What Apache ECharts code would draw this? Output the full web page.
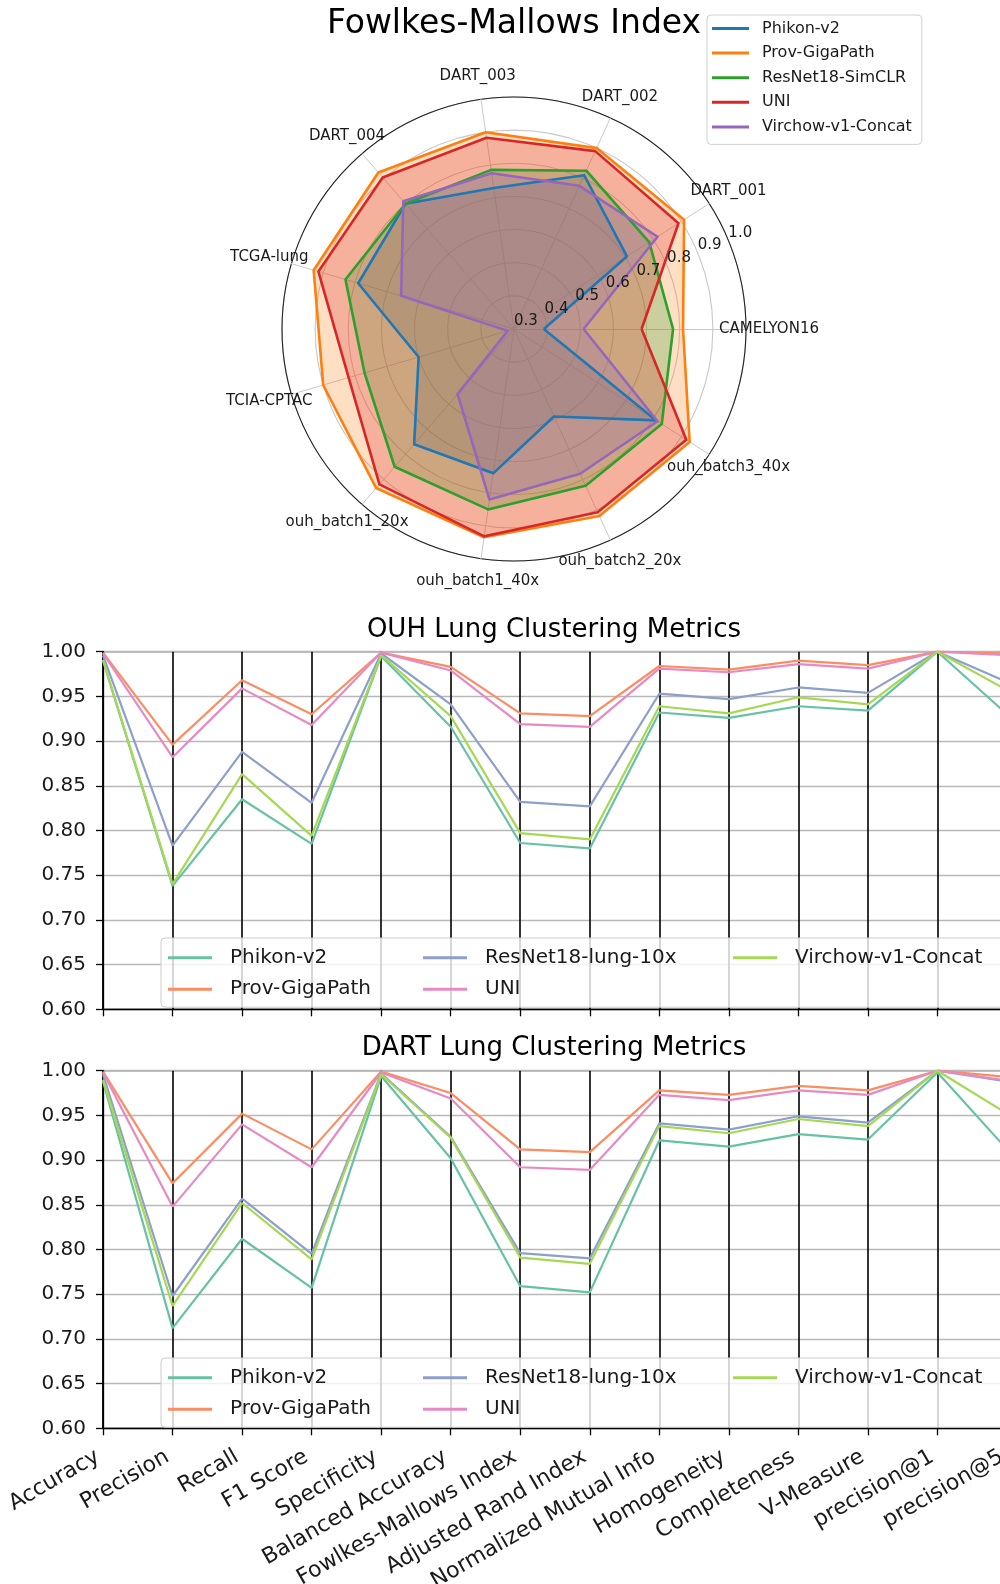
<!DOCTYPE html>
<html><head><meta charset="utf-8">
<script src="https://cdn.jsdelivr.net/npm/echarts@6/dist/echarts.min.js"></script>
<style>
html,body{margin:0;padding:0;overflow:hidden;background:#fff;width:1000px;height:1584px}
#radar{position:absolute;left:0;top:0;width:1028px;height:600px}
#par{position:absolute;left:0;top:600px;width:1108px;height:984px}
</style>
</head><body>
<div id="radar"></div><div id="par"></div>
<script>
// ---------- Radar data ----------
const radarCategories = ['CAMELYON16','DART_001','DART_002','DART_003','DART_004','TCGA-lung','TCIA-CPTAC','ouh_batch1_20x','ouh_batch1_40x','ouh_batch2_20x','ouh_batch3_40x'];
const radarModels = ['Phikon-v2','Prov-GigaPath','ResNet18-SimCLR','UNI','Virchow-v1-Concat'];
const radarPhikon  = [0.39, 0.705, 0.81, 0.73, 0.80, 0.79, 0.60, 0.76, 0.74, 0.59, 0.81];
const radarProv    = [0.81, 0.91, 0.90, 0.90, 0.925, 0.93, 0.90, 0.935, 0.935, 0.92, 0.93];
const radarResNet  = [0.78, 0.785, 0.825, 0.785, 0.80, 0.83, 0.77, 0.85, 0.85, 0.82, 0.83];
const radarUNI     = [0.685, 0.89, 0.89, 0.883, 0.905, 0.915, 0.82, 0.92, 0.932, 0.908, 0.918];
const radarVirchow = [0.51, 0.815, 0.775, 0.775, 0.81, 0.655, 0.32, 0.56, 0.82, 0.78, 0.815];
const radarTicks = [0.3, 0.4, 0.5, 0.6, 0.7, 0.8, 0.9, 1.0];

// ---------- Parallel data ----------
const metrics = ['Accuracy','Precision','Recall','F1 Score','Specificity','Balanced Accuracy','Fowlkes-Mallows Index','Adjusted Rand Index','Normalized Mutual Info','Homogeneity','Completeness','V-Measure','precision@1','precision@5'];
const parModels = ['Phikon-v2','Prov-GigaPath','ResNet18-lung-10x','UNI','Virchow-v1-Concat'];
const ouhPhikon  = [0.990,0.738,0.835,0.785,0.995,0.916,0.786,0.780,0.932,0.926,0.939,0.934,1.000,0.930];
const ouhProv    = [0.999,0.896,0.968,0.930,0.999,0.983,0.931,0.928,0.984,0.980,0.990,0.985,1.000,0.998];
const ouhResNet  = [0.996,0.783,0.888,0.831,0.998,0.941,0.832,0.827,0.953,0.947,0.960,0.954,1.000,0.966];
const ouhUNI     = [0.998,0.882,0.959,0.918,0.999,0.979,0.919,0.916,0.981,0.977,0.986,0.981,1.000,0.996];
const ouhVirchow = [0.991,0.740,0.863,0.794,0.996,0.928,0.797,0.790,0.939,0.931,0.949,0.941,1.000,0.957];
const dartPhikon  = [0.988,0.712,0.812,0.757,0.994,0.902,0.759,0.752,0.922,0.915,0.929,0.923,0.998,0.912];
const dartProv    = [0.999,0.874,0.952,0.912,0.999,0.975,0.912,0.909,0.978,0.973,0.983,0.978,1.000,0.993];
const dartResNet  = [0.996,0.748,0.857,0.795,0.997,0.926,0.796,0.790,0.941,0.934,0.949,0.942,1.000,0.988];
const dartUNI     = [0.998,0.848,0.940,0.892,0.998,0.969,0.892,0.889,0.973,0.967,0.978,0.973,1.000,0.989];
const dartVirchow = [0.990,0.737,0.852,0.789,0.996,0.925,0.791,0.784,0.938,0.930,0.946,0.938,1.000,0.952];
const yTicks = ['0.60','0.65','0.70','0.75','0.80','0.85','0.90','0.95','1.00'];

const FONT = 'DejaVu Sans';
const TXT = '#1a1a1a';

// ---------- Radar chart ----------
const radarColors = ['#1f77b4','#ff7f0e','#2ca02c','#d62728','#9467bd'];
const radarValues = [radarPhikon, radarProv, radarResNet, radarUNI, radarVirchow];
const rc = echarts.init(document.getElementById('radar'));
const ringColors = radarTicks.map((t,i)=> i === radarTicks.length-1 ? '#222' : '#c8c8c8');
rc.setOption({
  animation:false,
  textStyle:{fontFamily:FONT},
  title:{text:'Fowlkes-Mallows Index', left:'center', top:4, padding:0,
    textStyle:{fontFamily:FONT,fontSize:33,fontWeight:'normal',color:'#000',lineHeight:40}},
  legend:{orient:'vertical', left:707, top:15, padding:[4,10,8,5], itemWidth:37, itemHeight:3, icon:'rect',
    itemGap:5.6, data:radarModels, backgroundColor:'rgba(255,255,255,0.8)', borderColor:'#d0d0d0', borderWidth:1,
    borderRadius:4, z:10,
    textStyle:{fontFamily:FONT,fontSize:16,color:TXT,lineHeight:19,padding:[0,0,0,8]}},
  radar:{center:[514,329], radius:232, startAngle:0, shape:'circle', splitNumber:radarTicks.length-1,
    indicator: radarCategories.map(n=>({name:n, min:radarTicks[0], max:radarTicks[radarTicks.length-1]})),
    axisName:{color:TXT, fontFamily:FONT, fontSize:15, align:'center', verticalAlign:'middle'},
    nameGap:23,
    splitLine:{lineStyle:{color:ringColors, width:1.1}},
    splitArea:{show:false},
    axisLine:{lineStyle:{color:'#c8c8c8', width:1}},
    axisTick:{show:false}, axisLabel:{show:false}},
  polar:{center:[514,329], radius:232},
  angleAxis:{type:'value', startAngle:22.5, min:0, max:360, show:false},
  radiusAxis:{type:'value', min:0.3, max:1.0, interval:0.1, axisLine:{show:false}, axisTick:{show:false},
    splitLine:{show:false}, z:20,
    axisLabel:{show:true, margin:0, align:'left', verticalAlign:'bottom', fontFamily:FONT, fontSize:15, color:TXT,
      formatter:v=>v.toFixed(1)}},
  series:[
    {type:'radar', symbol:'none', z:2,
      data: radarModels.map((n,i)=>({name:n, value:radarValues[i], itemStyle:{color:radarColors[i]},
        lineStyle:{color:radarColors[i], width:0, opacity:0}, areaStyle:{color:radarColors[i], opacity:0.25}}))},
    {type:'radar', symbol:'none', z:3,
      data: radarModels.map((n,i)=>({name:n, value:radarValues[i], itemStyle:{color:radarColors[i]},
        lineStyle:{color:radarColors[i], width:2.6}}))}
  ]
});

// ---------- Parallel charts ----------
const setColors = ['#66c2a5','#fc8d62','#8da0cb','#e78ac3','#a6d854'];
const ouhValues = [ouhPhikon, ouhProv, ouhResNet, ouhUNI, ouhVirchow];
const dartValues = [dartPhikon, dartProv, dartResNet, dartUNI, dartVirchow];
const pc = echarts.init(document.getElementById('par'));
const gridTops = [51.7, 470.7];
const legendTops = [338, 758];
function xAx(i){
  return {gridIndex:i, type:'category', data:metrics, boundaryGap:false,
    axisLine:{show:true, lineStyle:{color:'#000', width:1.3}},
    axisTick:{show:true, interval:0, length:7, lineStyle:{color:'#000', width:1.3}},
    axisLabel:{show:i===1, interval:0, rotate:30, fontSize:22, margin:24, padding:[0,6,0,0], color:TXT, fontFamily:FONT,
      hideOverlap:false},
    splitLine:{show:true, interval:0, lineStyle:{color:'#000', width:1.6}}};
}
function yAx(i){
  return {gridIndex:i, type:'value', min:parseFloat(yTicks[0]), max:parseFloat(yTicks[yTicks.length-1]), interval:0.05,
    axisLine:{show:true, lineStyle:{color:'#000', width:1.3}},
    axisTick:{show:true, length:7, lineStyle:{color:'#000', width:1.3}},
    axisLabel:{fontSize:20, margin:17, color:TXT, fontFamily:FONT,
      formatter:v=>{const k=Math.round((v-0.6)/0.05); return yTicks[k];}},
    splitLine:{show:true, lineStyle:{color:'#b8b8b8', width:1.3}}};
}
const legends = [];
legendTops.forEach((t)=>{
  const common = {orient:'vertical', top:t, itemWidth:44, itemHeight:3, icon:'rect', itemGap:9.5, z:10,
    textStyle:{fontFamily:FONT, fontSize:20, color:TXT, lineHeight:22, padding:[0,0,0,13]}};
  legends.push(Object.assign({}, common, {left:161, padding:[8.7,650,7,7], data:[parModels[0],parModels[1]],
    backgroundColor:'rgba(255,255,255,0.8)', borderColor:'#cccccc', borderWidth:1, borderRadius:4}));
  legends.push(Object.assign({}, common, {left:423, padding:[8.7,0,7,0], data:[parModels[2],parModels[3]]}));
  legends.push(Object.assign({}, common, {left:733, padding:[8.7,0,7,0], data:[parModels[4]]}));
});
const series = [];
[ouhValues, dartValues].forEach((vals, gi)=>{
  parModels.forEach((n,i)=>{
    series.push({type:'line', name:n, xAxisIndex:gi, yAxisIndex:gi, symbol:'none', data:vals[i],
      color:setColors[i], lineStyle:{color:setColors[i], width:2.2}, z:3});
  });
});
pc.setOption({
  animation:false,
  textStyle:{fontFamily:FONT},
  title:[
    {text:'OUH Lung Clustering Metrics', left:'center', top:15, padding:0,
      textStyle:{fontFamily:FONT,fontSize:26,fontWeight:'normal',color:'#000',lineHeight:30}},
    {text:'DART Lung Clustering Metrics', left:'center', top:433, padding:0,
      textStyle:{fontFamily:FONT,fontSize:26,fontWeight:'normal',color:'#000',lineHeight:30}}
  ],
  legend: legends,
  grid: gridTops.map(t=>({left:103, top:t, width:904, height:357.6, show:true, borderColor:'#000', borderWidth:1.3,
    backgroundColor:'transparent', containLabel:false, outerBoundsMode:'none'})),
  xAxis:[xAx(0), xAx(1)],
  yAxis:[yAx(0), yAx(1)],
  series: series
});
</script>
</body></html>
